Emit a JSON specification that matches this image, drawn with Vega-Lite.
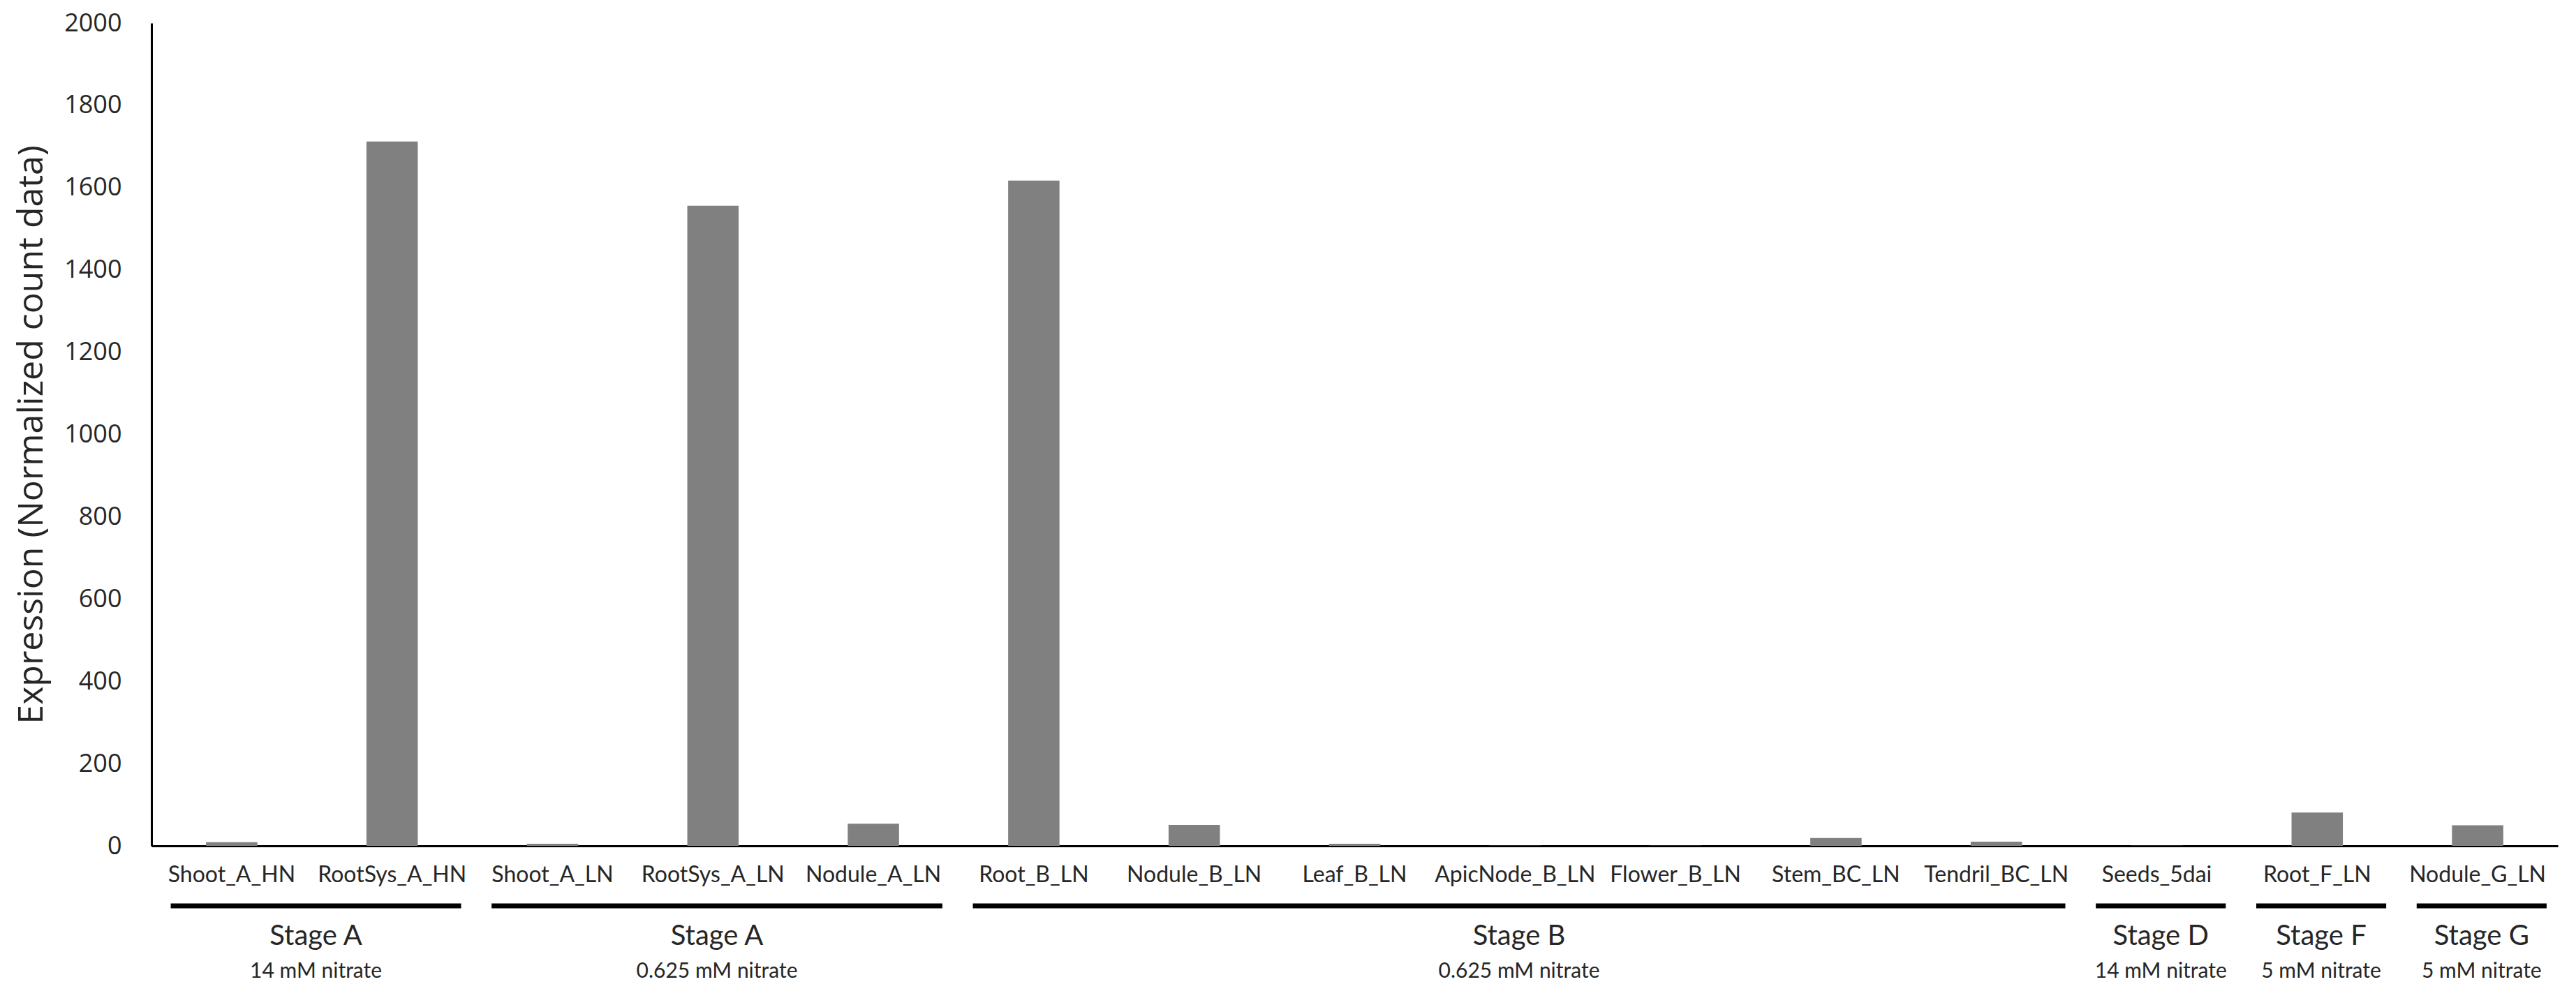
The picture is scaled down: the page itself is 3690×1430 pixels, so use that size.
{
  "$schema": "https://vega.github.io/schema/vega-lite/v6.json",
  "autosize": {"type": "pad"},
  "padding": {"left": 20, "top": 15, "right": 20, "bottom": 10},
  "background": "white",
  "config": {"view": {"stroke": null}},
  "bounds": "flush",
  "spacing": 64,
  "datasets": {
    "expr": [
      {"sample": "Shoot_A_HN", "expression": 9},
      {"sample": "RootSys_A_HN", "expression": 1712},
      {"sample": "Shoot_A_LN", "expression": 5},
      {"sample": "RootSys_A_LN", "expression": 1556},
      {"sample": "Nodule_A_LN", "expression": 54},
      {"sample": "Root_B_LN", "expression": 1617},
      {"sample": "Nodule_B_LN", "expression": 51},
      {"sample": "Leaf_B_LN", "expression": 5},
      {"sample": "ApicNode_B_LN", "expression": 0.5},
      {"sample": "Flower_B_LN", "expression": 0.5},
      {"sample": "Stem_BC_LN", "expression": 19},
      {"sample": "Tendril_BC_LN", "expression": 10},
      {"sample": "Seeds_5dai", "expression": 0.3},
      {"sample": "Root_F_LN", "expression": 81},
      {"sample": "Nodule_G_LN", "expression": 50}
    ],
    "groups": [
      {"stage": "Stage A", "condition": "14 mM nitrate", "first": 0, "last": 1},
      {"stage": "Stage A", "condition": "0.625 mM nitrate", "first": 2, "last": 4},
      {"stage": "Stage B", "condition": "0.625 mM nitrate", "first": 5, "last": 11},
      {"stage": "Stage D", "condition": "14 mM nitrate", "first": 12, "last": 12},
      {"stage": "Stage F", "condition": "5 mM nitrate", "first": 13, "last": 13},
      {"stage": "Stage G", "condition": "5 mM nitrate", "first": 14, "last": 14}
    ]
  },
  "vconcat": [
    {
      "width": 3447,
      "height": 1179,
      "data": {"name": "expr"},
      "mark": {"type": "bar", "color": "#808080", "width": {"band": 0.32}},
      "encoding": {
        "x": {
          "field": "sample",
          "type": "nominal",
          "sort": null,
          "scale": {"paddingInner": 0, "paddingOuter": 0},
          "axis": {
            "title": null,
            "labelAngle": 0,
            "labelLimit": 0,
            "labelFont": "Lato",
            "labelFontSize": 32,
            "labelColor": "#262626",
            "labelPadding": 26,
            "ticks": false,
            "domainColor": "#000000",
            "domainWidth": 3
          }
        },
        "y": {
          "field": "expression",
          "type": "quantitative",
          "scale": {"domain": [0, 2000], "nice": false},
          "axis": {
            "title": "Expression (Normalized count data)",
            "titleFont": "Open Sans",
            "titleFontSize": 50,
            "titleFontWeight": "normal",
            "titleColor": "#262626",
            "titlePadding": 21,
            "values": [0, 200, 400, 600, 800, 1000, 1200, 1400, 1600, 1800, 2000],
            "format": "d",
            "labelFont": "Open Sans",
            "labelFontSize": 36,
            "labelColor": "#262626",
            "labelPadding": 43,
            "ticks": false,
            "grid": false,
            "domainColor": "#000000",
            "domainWidth": 3
          }
        }
      }
    },
    {
      "width": 3447,
      "height": 132,
      "data": {"name": "groups"},
      "transform": [
        {"calculate": "datum.first + 0.12", "as": "lo"},
        {"calculate": "datum.last + 0.93", "as": "hi"},
        {"calculate": "(datum.lo + datum.hi) / 2", "as": "mid"}
      ],
      "layer": [
        {
          "mark": {"type": "rule", "strokeWidth": 7, "color": "#000000"},
          "encoding": {
            "x": {"field": "lo", "type": "quantitative", "scale": {"domain": [0, 15], "nice": false, "zero": false}, "axis": null},
            "x2": {"field": "hi"},
            "y": {"datum": "line", "type": "ordinal", "scale": {"type": "point", "domain": ["line", "stage", "condition"], "padding": 0.5}, "axis": null}
          }
        },
        {
          "mark": {"type": "text", "font": "Lato", "fontSize": 40, "color": "#262626", "baseline": "middle", "align": "center"},
          "encoding": {
            "x": {"field": "mid", "type": "quantitative"},
            "y": {"datum": "stage", "type": "ordinal"},
            "text": {"field": "stage"}
          }
        },
        {
          "mark": {"type": "text", "font": "Lato", "fontSize": 30, "color": "#262626", "baseline": "middle", "align": "center", "dy": 6},
          "encoding": {
            "x": {"field": "mid", "type": "quantitative"},
            "y": {"datum": "condition", "type": "ordinal"},
            "text": {"field": "condition"}
          }
        }
      ]
    }
  ]
}
